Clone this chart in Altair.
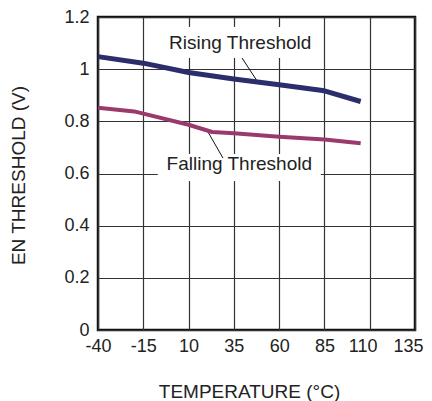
import altair as alt
import pandas as pd

# ---- data ----
rising_temp = [-40, -15, 10, 35, 60, 85, 105]
rising_v = [1.048, 1.023, 0.987, 0.962, 0.940, 0.917, 0.876]
falling_temp = [-40, -20, 10, 23, 35, 60, 85, 105]
falling_v = [0.852, 0.838, 0.787, 0.759, 0.754, 0.741, 0.730, 0.716]

x_ticks = [-40, -15, 10, 35, 60, 85, 110, 135]
y_ticks = [0, 0.2, 0.4, 0.6, 0.8, 1.0, 1.2]

series = ["Rising Threshold", "Falling Threshold"]
colors = ["#2c2d6b", "#9a396b"]

# annotation boxes / labels / leaders (data coordinates)
ann_label = ["Rising Threshold", "Falling Threshold"]
ann_x = [38.5, 38.0]
ann_y = [1.100, 0.636]
box_x1 = [-7, -7]
box_x2 = [84, 83]
box_y1 = [1.043, 0.571]
box_y2 = [1.162, 0.675]
lead_x1 = [39.5, 20.4]
lead_y1 = [1.043, 0.763]
lead_x2 = [47.8, 29.0]
lead_y2 = [0.955, 0.659]

rows = []
for t, v in zip(rising_temp, rising_v):
    rows.append({"temp": t, "v": v, "series": series[0]})
for t, v in zip(falling_temp, falling_v):
    rows.append({"temp": t, "v": v, "series": series[1]})
df = pd.DataFrame(rows)

ann = pd.DataFrame({
    "label": ann_label, "x": ann_x, "y": ann_y,
    "bx1": box_x1, "bx2": box_x2, "by1": box_y1, "by2": box_y2,
    "lx1": lead_x1, "ly1": lead_y1, "lx2": lead_x2, "ly2": lead_y2,
})

FONT = "Liberation Sans"
xscale = alt.Scale(domain=[-40, 135], nice=False, zero=False)
yscale = alt.Scale(domain=[0, 1.2], nice=False)

xaxis = alt.Axis(
    values=x_ticks, grid=True, ticks=False, domain=False,
    labelExpr="'' + datum.value",
    labelOffset={"condition": {"test": "datum.value >= 110", "value": -7}, "value": 0},
    gridColor="#333333", gridWidth=1.2, gridOpacity=1,
    labelFontSize=18, labelFont=FONT, labelColor="#222222", labelPadding=7,
    labelFlush=False, labelOverlap=False,
    title="TEMPERATURE (°C)", titleFontSize=19, titleFont=FONT,
    titleFontWeight="normal", titleColor="#222222",
    titleX=151, titleY=61, titleBaseline="middle", titleAlign="center",
)
yaxis = alt.Axis(
    values=y_ticks, grid=True, ticks=False, domain=False, format="~g",
    gridColor="#333333", gridWidth=1.2, gridOpacity=1,
    labelFontSize=18, labelFont=FONT, labelColor="#222222", labelPadding=9,
    labelFlush=False,
    title="EN THRESHOLD (V)", titleFontSize=19, titleFont=FONT,
    titleFontWeight="normal", titleColor="#222222",
    titleX=-80, titleY=158, titleBaseline="middle", titleAlign="center",
    titleAngle=270,
)

lines = alt.Chart(df).mark_line(strokeCap="butt", strokeJoin="round").encode(
    x=alt.X("temp:Q", scale=xscale, axis=xaxis),
    y=alt.Y("v:Q", scale=yscale, axis=yaxis),
    color=alt.Color("series:N", scale=alt.Scale(domain=series, range=colors), legend=None),
    strokeWidth=alt.StrokeWidth("series:N", scale=alt.Scale(domain=series, range=[5, 4]), legend=None),
)

boxes = alt.Chart(ann).mark_rect(fill="white").encode(
    x=alt.X("bx1:Q", scale=xscale), x2="bx2:Q",
    y=alt.Y("by1:Q", scale=yscale), y2="by2:Q",
)
texts = alt.Chart(ann).mark_text(
    font=FONT, fontSize=19, color="#222222", align="center", baseline="middle"
).encode(
    x=alt.X("x:Q", scale=xscale), y=alt.Y("y:Q", scale=yscale), text="label:N",
)
leaders = alt.Chart(ann).mark_rule(color="#111111", strokeWidth=1).encode(
    x=alt.X("lx1:Q", scale=xscale), x2="lx2:Q",
    y=alt.Y("ly1:Q", scale=yscale), y2="ly2:Q",
)

chart = alt.layer(boxes, texts, leaders, lines).properties(
    width=317, height=313,
    autosize=alt.AutoSizeParams(type="none"),
    padding={"left": 90, "top": 9, "right": 9, "bottom": 72},
).configure_view(
    stroke="#111111", strokeWidth=2.5
)

chart.save("out.html", embed_options={"renderer": "svg", "actions": False})
